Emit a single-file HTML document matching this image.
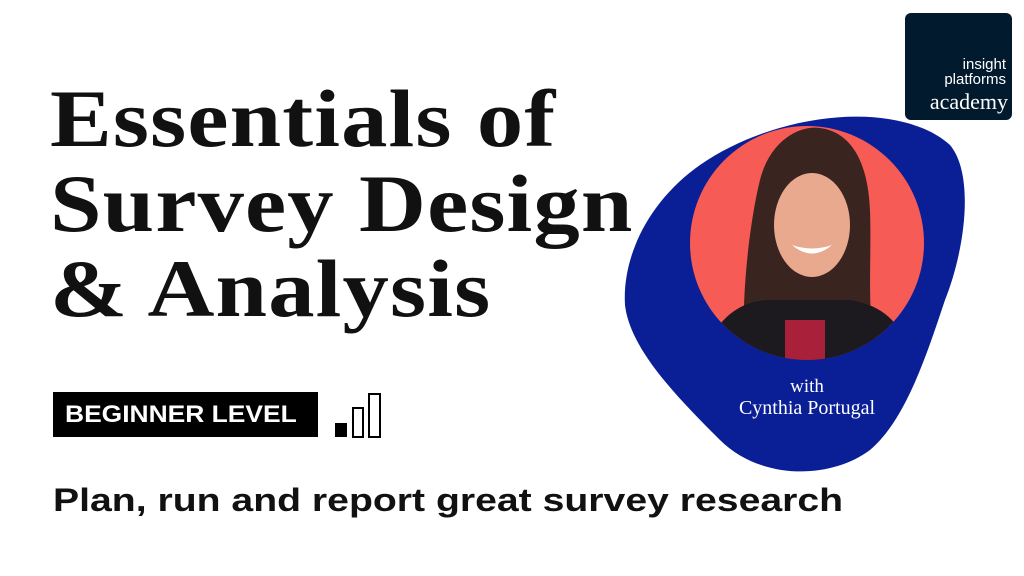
<!DOCTYPE html>
<html><head><meta charset="utf-8"><style>
html,body{margin:0;padding:0;background:#fff;}
body{width:1024px;height:576px;position:relative;overflow:hidden;}
.t{position:absolute;left:50px;font-family:"Liberation Serif",serif;font-weight:bold;font-size:82px;color:#111;white-space:nowrap;letter-spacing:1px;transform-origin:left top;transform:scaleX(1.13);}
.badge{position:absolute;left:53px;top:392px;width:265px;height:45px;background:#000;}
.badge span{position:absolute;left:12px;top:0;color:#fff;font-family:"Liberation Sans",sans-serif;font-weight:bold;font-size:24px;line-height:45px;white-space:nowrap;transform-origin:left center;transform:scaleX(1.1);}
.sub{position:absolute;left:53px;top:482px;font-family:"Liberation Sans",sans-serif;font-weight:bold;font-size:32.5px;color:#111;white-space:nowrap;transform-origin:left top;transform:scaleX(1.205);}
.logo{position:absolute;left:905px;top:13px;width:107px;height:107px;background:#021a2e;border-radius:6px;color:#fff;text-align:right;}
</style></head><body>
<div class="t" style="top:72px">Essentials of</div>
<div class="t" style="top:157px">Survey Design</div>
<div class="t" style="top:242px">&amp; Analysis</div>
<div class="badge"><span>BEGINNER LEVEL</span></div>
<svg style="position:absolute;left:330px;top:388px" width="60" height="54">
<rect x="5" y="35" width="12" height="14" fill="#000"/>
<rect x="23" y="20" width="10" height="29" fill="none" stroke="#000" stroke-width="2"/>
<rect x="39" y="6" width="11" height="43" fill="none" stroke="#000" stroke-width="2"/>
</svg>
<div class="sub">Plan, run and report great survey research</div>
<svg style="position:absolute;left:0;top:0" width="1024" height="576">
<path d="M700,165 C780,110 900,100 950,145 C975,175 965,250 945,300 C925,360 905,420 870,450 C830,480 760,480 720,440 C680,400 630,350 625,305 C622,255 650,200 700,165 Z" fill="#0a1e96"/>
<defs><clipPath id="c"><circle cx="807" cy="243" r="117"/></clipPath></defs>
<circle cx="807" cy="243" r="117" fill="#f75b55"/>
<g clip-path="url(#c)">
<path d="M745,360 C740,300 750,220 760,180 C770,140 800,125 820,128 C850,132 868,160 870,210 C872,270 865,320 880,360 Z" fill="#3a2420"/>
<path d="M700,370 C710,320 740,300 770,300 L850,300 C880,305 905,320 915,370 Z" fill="#1d1a1f"/>
<rect x="785" y="320" width="40" height="50" fill="#a8203a"/>
<ellipse cx="812" cy="225" rx="38" ry="52" fill="#e8a98f"/>
<path d="M792,245 Q812,262 832,245 Q812,252 792,245Z" fill="#fff"/>
</g>
<text x="807" y="392" text-anchor="middle" fill="#fff" font-family="Liberation Serif,serif" font-size="19">with</text>
<text x="807" y="414" text-anchor="middle" fill="#fff" font-family="Liberation Serif,serif" font-size="20">Cynthia Portugal</text>
</svg>
<div class="logo">
<div style="position:absolute;right:6px;top:44px;font-family:'Liberation Sans',sans-serif;font-size:15px;line-height:15px">insight<br>platforms</div>
<div style="position:absolute;right:4px;top:78px;font-family:'Liberation Serif',serif;font-size:22px;line-height:22px">academy</div>
</div>
</body></html>
